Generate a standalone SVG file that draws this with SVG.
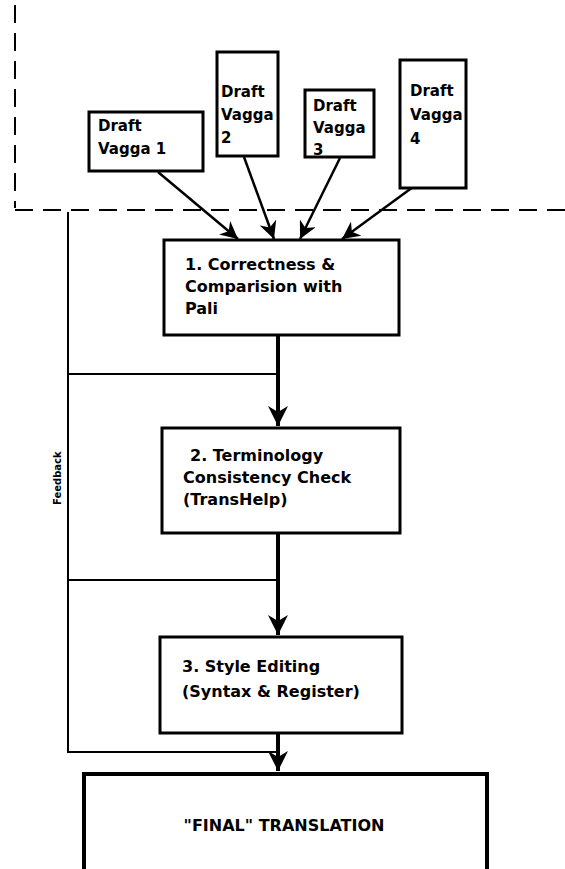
<svg xmlns="http://www.w3.org/2000/svg" width="565" height="869" viewBox="0 0 565 869">
<style>
.box{fill:#fff;stroke:#000;stroke-width:3}
.t{font-family:"DejaVu Sans",Verdana,sans-serif;font-size:16px;font-weight:bold;fill:#000}
.d{font-size:15px}
.dash{stroke:#000;stroke-width:2;stroke-dasharray:18 10;fill:none}
.main{stroke:#000;stroke-width:4;fill:none}
.fb{stroke:#000;stroke-width:2;fill:none}
.in{stroke:#000;stroke-width:2.5;fill:none}
</style>
<defs>
<marker id="ah" viewBox="0 0 10 10" refX="10" refY="5" markerWidth="5" markerHeight="5" orient="auto" markerUnits="strokeWidth">
<path d="M0,0 L10,5 L0,10 L3,5 Z" fill="#000"/>
</marker>
<marker id="ah2" viewBox="0 0 10 10" refX="10" refY="5" markerWidth="7" markerHeight="7" orient="auto" markerUnits="strokeWidth">
<path d="M0,0 L10,5 L0,10 L3,5 Z" fill="#000"/>
</marker>
</defs>
<g id="boundary">
<line class="dash" x1="15" y1="5" x2="15" y2="208"/>
<line class="dash" x1="15" y1="210" x2="565" y2="210"/>
</g>
<g id="connectors">
<line class="in" x1="158" y1="172" x2="238" y2="239" marker-end="url(#ah2)"/>
<line class="in" x1="244" y1="157" x2="274" y2="239" marker-end="url(#ah2)"/>
<line class="in" x1="340" y1="158" x2="300" y2="239" marker-end="url(#ah2)"/>
<line class="in" x1="413" y1="187" x2="342" y2="239" marker-end="url(#ah2)"/>
<line class="main" x1="278" y1="335" x2="278" y2="426" marker-end="url(#ah)"/>
<line class="main" x1="278" y1="533" x2="278" y2="635" marker-end="url(#ah)"/>
<line class="main" x1="278" y1="733" x2="278" y2="771" marker-end="url(#ah)"/>
<polyline class="fb" points="278,374 68,374"/>
<polyline class="fb" points="278,580 68,580"/>
<polyline class="fb" points="278,752 68,752 68,212"/>
<text class="t" style="font-size:10px" transform="translate(61,505) rotate(-90)">Feedback</text>
</g>
<g id="draft1">
<rect class="box" x="89" y="112" width="114" height="59"/>
<text class="t d" x="98" y="131">Draft</text>
<text class="t d" x="98" y="154">Vagga 1</text>
</g>
<g id="draft2">
<rect class="box" x="217" y="52" width="61" height="104"/>
<text class="t d" x="221" y="97">Draft</text>
<text class="t d" x="221" y="120">Vagga</text>
<text class="t d" x="221" y="143">2</text>
</g>
<g id="draft3">
<rect class="box" x="305" y="90" width="69" height="67"/>
<text class="t d" x="313" y="111">Draft</text>
<text class="t d" x="313" y="133">Vagga</text>
<text class="t d" x="313" y="155">3</text>
</g>
<g id="draft4">
<rect class="box" x="400" y="60" width="66" height="128"/>
<text class="t d" x="410" y="96">Draft</text>
<text class="t d" x="410" y="120">Vagga</text>
<text class="t d" x="410" y="144">4</text>
</g>
<g id="step1">
<rect class="box" x="164" y="240" width="235" height="95"/>
<text class="t" x="185" y="270">1. Correctness &amp;</text>
<text class="t" x="185" y="292">Comparision with</text>
<text class="t" x="185" y="314">Pali</text>
</g>
<g id="step2">
<rect class="box" x="162" y="428" width="238" height="105"/>
<text class="t" x="190" y="461">2. Terminology</text>
<text class="t" x="183" y="483">Consistency Check</text>
<text class="t" x="183" y="505">(TransHelp)</text>
</g>
<g id="step3">
<rect class="box" x="160" y="637" width="242" height="96"/>
<text class="t" x="182" y="672">3. Style Editing</text>
<text class="t" x="182" y="697">(Syntax &amp; Register)</text>
</g>
<g id="final">
<path d="M84,880 L84,774 L487,774 L487,880" fill="#fff" stroke="#000" stroke-width="4"/>
<text class="t" x="284" y="831" text-anchor="middle">"FINAL" TRANSLATION</text>
</g>
</svg>
